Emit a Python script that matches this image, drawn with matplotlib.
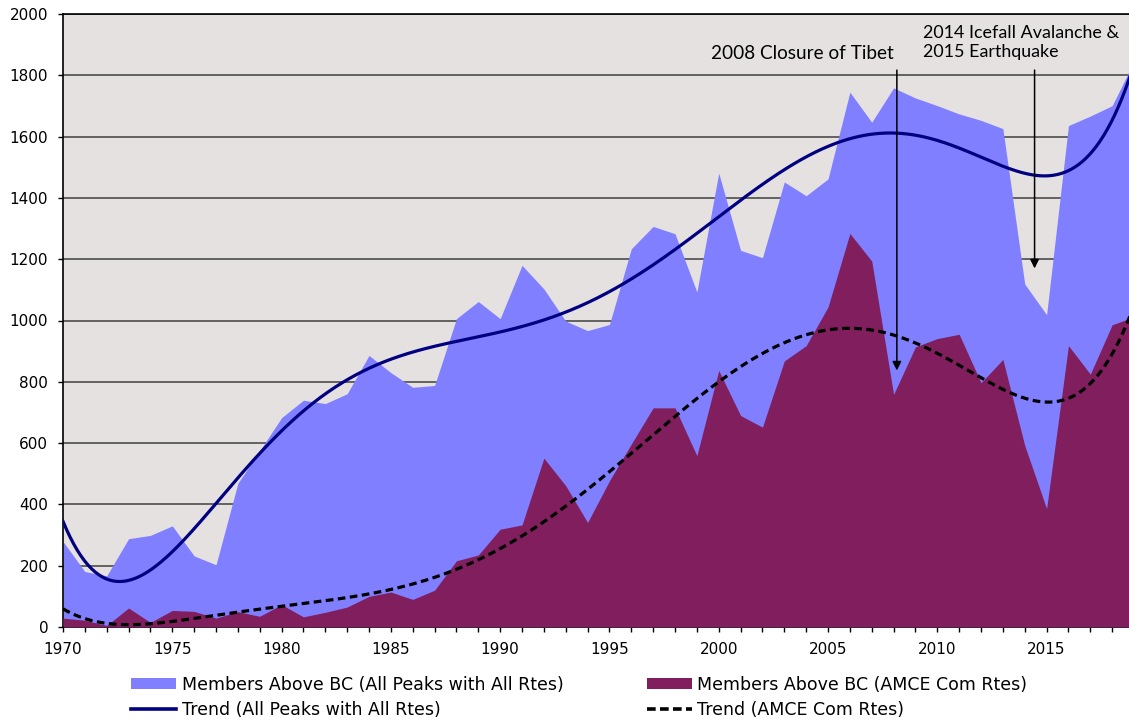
import numpy as np
import matplotlib
matplotlib.use("Agg")
import matplotlib.pyplot as plt
from matplotlib.patches import Patch
from matplotlib.lines import Line2D
from matplotlib.ticker import MultipleLocator

years = list(range(1970, 2020))
all_peaks = [279, 181, 167, 288, 299, 330, 232, 203, 469, 575,
             683, 740, 729, 761, 886, 830, 782, 788, 1006, 1062,
             1006, 1180, 1103, 998, 967, 987, 1234, 1307, 1283, 1093,
             1481, 1229, 1205, 1452, 1407, 1462, 1745, 1647, 1759, 1726,
             1701, 1674, 1653, 1626, 1119, 1019, 1636, 1667, 1701, 1845]
amce = [29, 22, 5, 62, 15, 54, 51, 29, 50, 35,
        73, 33, 48, 65, 100, 114, 90, 120, 216, 235,
        319, 333, 551, 461, 341, 477, 597, 715, 715, 559,
        837, 690, 652, 868, 918, 1044, 1284, 1194, 759, 914,
        941, 955, 797, 873, 592, 386, 918, 825, 986, 1012]

legend_labels = ["Members Above BC (All Peaks with All Rtes)",
                 "Trend (All Peaks with All Rtes)",
                 "Members Above BC (AMCE Com Rtes)",
                 "Trend (AMCE Com Rtes)"]
ann1 = "2008 Closure of Tibet"
ann2 = "2014 Icefall Avalanche &\n2015 Earthquake"

x = np.array(years, dtype=float)
xs = x - 1970
# polynomial (order 6) trendlines, as in the spreadsheet chart
xf = np.linspace(1970, 2019, 600)
p_all = np.polyfit(xs, np.array(all_peaks, float), 6)
p_amce = np.polyfit(xs, np.array(amce, float), 6)
trend_all = np.polyval(p_all, xf - 1970)
trend_amce = np.polyval(p_amce, xf - 1970)

BG = "#E6E1E1"
BLUE = "#7F7FFF"
MAROON = "#801E5E"
NAVY = "#000080"

fig = plt.figure(figsize=(11.29, 7.22), dpi=100)
ax = fig.add_axes([63/1129, 1 - 627/722, 1 - 63/1129, (627 - 14)/722])
ax.set_facecolor(BG)

ax.fill_between(x, 0, all_peaks, color=BLUE, lw=0, zorder=2)
ax.fill_between(x, 0, amce, color=MAROON, lw=0, zorder=3)
ax.plot(xf, trend_all, color=NAVY, lw=2.3, zorder=4)
ax.plot(xf, trend_amce, color="black", lw=2.3, ls=(0, (2.4, 1.4)), zorder=4)

ax.set_xlim(1970, 2018.77)
ax.set_ylim(0, 2000)
ax.yaxis.set_major_locator(MultipleLocator(200))
ax.xaxis.set_major_locator(MultipleLocator(5))
ax.xaxis.set_minor_locator(MultipleLocator(1))
ax.grid(axis="y", color="#404040", lw=1.1, zorder=1)
ax.set_axisbelow(True)

for s in ["left", "bottom", "top"]:
    ax.spines[s].set_color("black")
    ax.spines[s].set_linewidth(1.2)
ax.spines["right"].set_visible(False)

ax.tick_params(axis="both", which="both", direction="out", length=3.6, width=1, colors="black")
ax.tick_params(axis="x", labelsize=11, pad=7)
ax.tick_params(axis="y", labelsize=11, pad=7)
for lab in ax.get_xticklabels() + ax.get_yticklabels():
    lab.set_fontfamily("DejaVu Sans")

# annotations
ax.text(2003.81, 1872, ann1, ha="center", va="center", fontsize=13.7,
        family=["Lato", "DejaVu Sans"], color="black", zorder=6)
ax.annotate("", xy=(2008.15, 837), xytext=(2008.15, 1817),
            arrowprops=dict(arrowstyle="-|>", color="black", lw=1.1,
                            mutation_scale=13, shrinkA=0, shrinkB=0), zorder=6)
ax.text(2009.36, 1907, ann2, ha="left", va="center", fontsize=12.9,
        family=["Lato", "DejaVu Sans"], color="black", linespacing=1.2, zorder=6)
ax.annotate("", xy=(2014.45, 1170), xytext=(2014.45, 1817),
            arrowprops=dict(arrowstyle="-|>", color="black", lw=1.1,
                            mutation_scale=13, shrinkA=0, shrinkB=0), zorder=6)

handles = [Patch(facecolor=BLUE, edgecolor="none"),
           Line2D([0], [0], color=NAVY, lw=2.6),
           Patch(facecolor=MAROON, edgecolor="none"),
           Line2D([0], [0], color="black", lw=2.6, ls=(0, (2.4, 1.2)))]
fig.legend(handles, legend_labels, loc="center", bbox_to_anchor=(0.513, 0.0345),
           ncol=2, frameon=False, handlelength=2.6, handleheight=0.6,
           handletextpad=0.3, columnspacing=4.8, labelspacing=0.4,
           borderpad=0, prop={"family": "DejaVu Sans", "size": 12.5})

fig.savefig("out.png", dpi=100)
